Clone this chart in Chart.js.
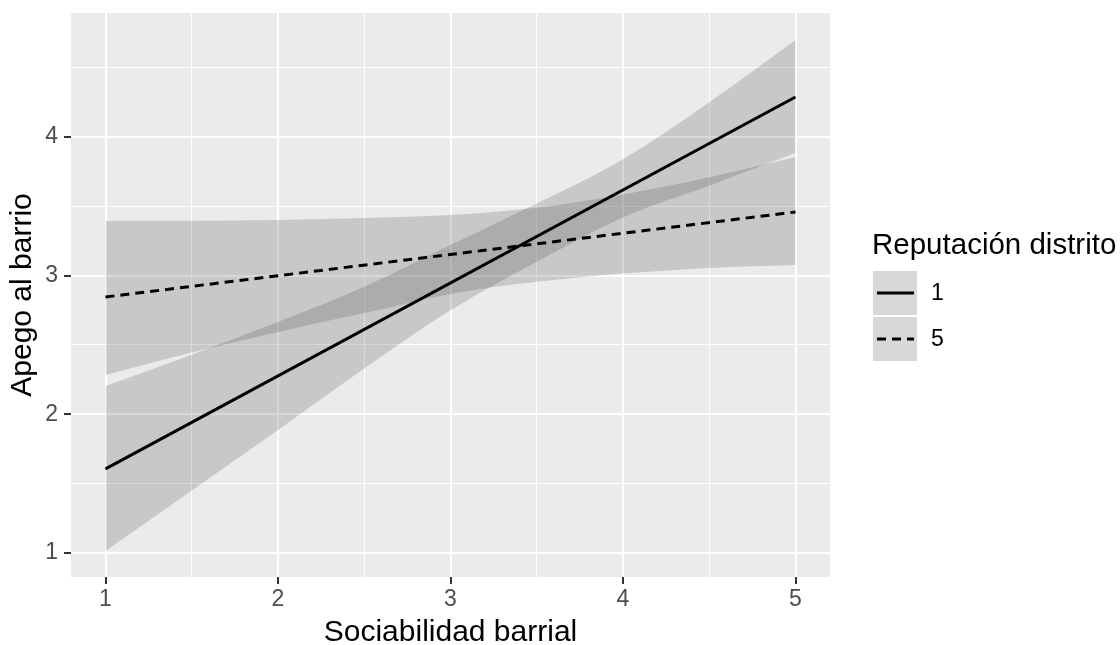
<!DOCTYPE html>
<html>
<head>
<meta charset="utf-8">
<script src="https://cdn.jsdelivr.net/npm/chart.js@4"></script>
<style>
  body { margin: 0; background: #ffffff; }
  canvas { display: block; }
</style>
</head>
<body>
<canvas id="apego" width="1120" height="645"></canvas>
<script>
// values
const bandX = [1, 1.5, 2, 2.5, 3, 3.5, 4, 4.5, 5];
const rep1Low = [1.014, 1.45, 1.887, 2.33, 2.75, 3.10, 3.42, 3.65, 3.885];
const rep1High = [2.204, 2.43, 2.666, 2.92, 3.22, 3.52, 3.84, 4.25, 4.699];
const rep5Low = [2.284, 2.445, 2.594, 2.73, 2.868, 2.955, 3.015, 3.055, 3.077];
const rep5High = [3.394, 3.395, 3.401, 3.415, 3.437, 3.49, 3.585, 3.71, 3.856];
const lineX = [1, 5];
const rep1Line = [1.606, 4.288];
const rep5Line = [2.846, 3.459];
const xTicks = [1, 1.5, 2, 2.5, 3, 3.5, 4, 4.5, 5];
const yTicks = [1, 1.5, 2, 2.5, 3, 3.5, 4, 4.5];
const legendTitle = 'Reputación distrito';
const legendLabels = ['1', '5'];

const FONT = "'Liberation Sans', Arial, sans-serif";
const bandFill = 'rgba(60, 60, 60, 0.2)';

function pts(xs, ys) {
    return xs.map((x, i) => ({x: x, y: ys[i]}));
}

function bandEdge(data, fillIt) {
    return {
        type: 'line',
        data: data,
        borderWidth: 0,
        borderColor: 'rgba(0,0,0,0)',
        backgroundColor: fillIt ? bandFill : 'rgba(0,0,0,0)',
        fill: fillIt ? '-1' : false,
        pointRadius: 0,
        cubicInterpolationMode: 'monotone',
        order: 1
    };
}

const panelBg = {
    id: 'panelBg',
    beforeDraw(chart) {
        const {ctx, chartArea: a} = chart;
        ctx.save();
        ctx.fillStyle = '#EBEBEB';
        ctx.fillRect(a.left, a.top, a.right - a.left, a.bottom - a.top);
        ctx.restore();
    }
};

// ggplot style legend on the right
const sideLegend = {
    id: 'sideLegend',
    afterDraw(chart) {
        const ctx = chart.ctx;
        ctx.save();
        ctx.fillStyle = '#000000';
        ctx.font = '29.5px ' + FONT;
        ctx.textBaseline = 'alphabetic';
        ctx.fillText(legendTitle, 872, 254);
        const dashes = [[], [9, 6]];
        legendLabels.forEach((lab, i) => {
            const top = 271 + i * 46;
            ctx.fillStyle = '#ffffff';
            ctx.fillRect(873, top, 44, 44);
            ctx.fillStyle = bandFill;
            ctx.fillRect(873, top, 44, 44);
            ctx.strokeStyle = '#000000';
            ctx.lineWidth = 3;
            ctx.setLineDash(dashes[i]);
            ctx.beginPath();
            ctx.moveTo(877, top + 22);
            ctx.lineTo(914, top + 22);
            ctx.stroke();
            ctx.setLineDash([]);
            ctx.fillStyle = '#000000';
            ctx.font = '23px ' + FONT;
            ctx.textBaseline = 'middle';
            ctx.fillText(lab, 931, top + 23);
        });
        ctx.restore();
    }
};

const isMajor = v => Number.isInteger(v);

const ctx = document.getElementById('apego').getContext('2d');
const apegoChart = new Chart(ctx, {
    type: 'line',
    data: {
        datasets: [
            bandEdge(pts(bandX, rep1Low), false),
            bandEdge(pts(bandX, rep1High), true),
            bandEdge(pts(bandX, rep5Low), false),
            bandEdge(pts(bandX, rep5High), true),
            {
                label: '1',
                data: pts(lineX, rep1Line),
                borderColor: '#000000',
                borderWidth: 3,
                pointRadius: 0,
                fill: false,
                order: 0
            },
            {
                label: '5',
                data: pts(lineX, rep5Line),
                borderColor: '#000000',
                borderWidth: 3,
                borderDash: [9, 6],
                pointRadius: 0,
                fill: false,
                order: 0
            }
        ]
    },
    options: {
        responsive: false,
        animation: false,
        layout: {
            padding: {top: 13, right: 290, left: 0, bottom: 0}
        },
        plugins: {
            legend: {display: false},
            tooltip: {enabled: false}
        },
        scales: {
            x: {
                type: 'linear',
                min: 0.8,
                max: 5.2,
                afterBuildTicks: scale => { scale.ticks = xTicks.map(v => ({value: v})); },
                afterFit: scale => { scale.height = 68; scale.paddingLeft = 0; scale.paddingRight = 0; },
                border: {display: false},
                grid: {
                    color: '#FFFFFF',
                    lineWidth: c => isMajor(c.tick.value) ? 2 : 1,
                    drawTicks: true,
                    tickLength: 7,
                    tickWidth: 2,
                    tickColor: c => isMajor(c.tick.value) ? '#333333' : 'rgba(0,0,0,0)'
                },
                ticks: {
                    autoSkip: false,
                    maxRotation: 0,
                    padding: 2,
                    color: '#4D4D4D',
                    font: {family: FONT, size: 23},
                    callback: v => isMajor(v) ? String(v) : ''
                },
                title: {
                    display: true,
                    text: 'Sociabilidad barrial',
                    color: '#000000',
                    font: {family: FONT, size: 30, lineHeight: 0.8},
                    padding: {top: 0, bottom: 0}
                }
            },
            y: {
                type: 'linear',
                min: 0.8265,
                max: 4.894,
                afterBuildTicks: scale => { scale.ticks = yTicks.map(v => ({value: v})); },
                afterFit: scale => { scale.width = 71; scale.paddingTop = 0; scale.paddingBottom = 0; },
                border: {display: false},
                grid: {
                    color: '#FFFFFF',
                    lineWidth: c => isMajor(c.tick.value) ? 2 : 1,
                    drawTicks: true,
                    tickLength: 7,
                    tickWidth: 2,
                    tickColor: c => isMajor(c.tick.value) ? '#333333' : 'rgba(0,0,0,0)'
                },
                ticks: {
                    autoSkip: false,
                    padding: 6,
                    color: '#4D4D4D',
                    font: {family: FONT, size: 23},
                    callback: v => isMajor(v) ? String(v) : ''
                },
                title: {
                    display: true,
                    text: 'Apego al barrio',
                    color: '#000000',
                    font: {family: FONT, size: 30, lineHeight: 1},
                    padding: {top: 8, bottom: 0}
                }
            }
        }
    },
    plugins: [panelBg, sideLegend]
});
</script>
</body>
</html>
